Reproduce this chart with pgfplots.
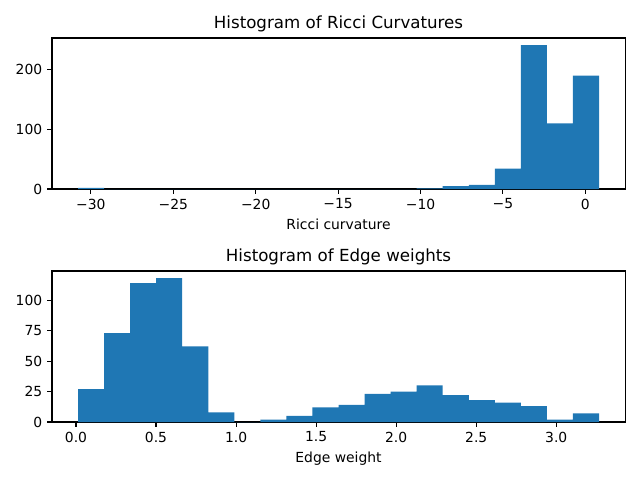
\documentclass[border=0pt]{standalone}
\usepackage{pgfplots}
\pgfplotsset{compat=1.18}
\usepackage{fontspec}
\setmainfont{DejaVu Sans}
\definecolor{mplblue}{HTML}{1F77B4}
\begin{document}
\begin{tikzpicture}
\useasboundingbox (0,0) rectangle (460.8pt,345.6pt);
\pgfplotsset{
  every axis/.style={
    scale only axis, width=412.6pt, height=108.7pt,
    anchor=south west,
    axis line style={line width=0.8pt},
    tick align=outside, tick pos=left,
    major tick length=3.5pt,
    every tick/.style={black, line width=0.8pt},
    tick label style={font=\fontsize{10}{12}\selectfont},
    /pgf/number format/assume math mode=true,
    label style={font=\fontsize{10}{12}\selectfont},
    title style={font=\fontsize{12}{14}\selectfont, yshift=-5.5pt},
    ymin=0,
  }
}
\begin{axis}[
  at={(37.44pt,209.5pt)},
  xmin=-32.36, xmax=2.41, ymax=253,
  xtick={-30,-25,-20,-15,-10,-5,0},
  xticklabels={−30,−25,−20,−15,−10,−5,0},
  ytick={0,100,200},
  title={Histogram of Ricci Curvatures},
  xlabel={Ricci curvature},
]
\addplot[ybar interval, fill=mplblue, draw=none] coordinates {
(-30.7800,2) (-29.1995,0) (-27.6190,0) (-26.0385,0) (-24.4580,0)
(-22.8775,0) (-21.2970,0) (-19.7165,0) (-18.1360,0) (-16.5555,0)
(-14.9750,0) (-13.3945,0) (-11.8140,0) (-10.2335,1) (-8.6530,5)
(-7.0725,7) (-5.4920,34) (-3.9115,241) (-2.3310,110) (-0.7505,190)
(0.8300,190)
};
\end{axis}
\begin{axis}[
  at={(37.44pt,41.76pt)},
  xmin=-0.1497, xmax=3.4297, ymax=123.9,
  xtick={0,0.5,1,1.5,2,2.5,3},
  xticklabels={0.0,0.5,1.0,1.5,2.0,2.5,3.0},
  ytick={0,25,50,75,100},
  title={Histogram of Edge weights},
  xlabel={Edge weight},
]
\addplot[ybar interval, fill=mplblue, draw=none] coordinates {
(0.0130,27) (0.1757,73) (0.3384,114) (0.5011,118) (0.6638,62)
(0.8265,8) (0.9892,0) (1.1519,2) (1.3146,5) (1.4773,12)
(1.6400,14) (1.8027,23) (1.9654,25) (2.1281,30) (2.2908,22)
(2.4535,18) (2.6162,16) (2.7789,13) (2.9416,2) (3.1043,7)
(3.2670,7)
};
\end{axis}
\end{tikzpicture}
\end{document}
